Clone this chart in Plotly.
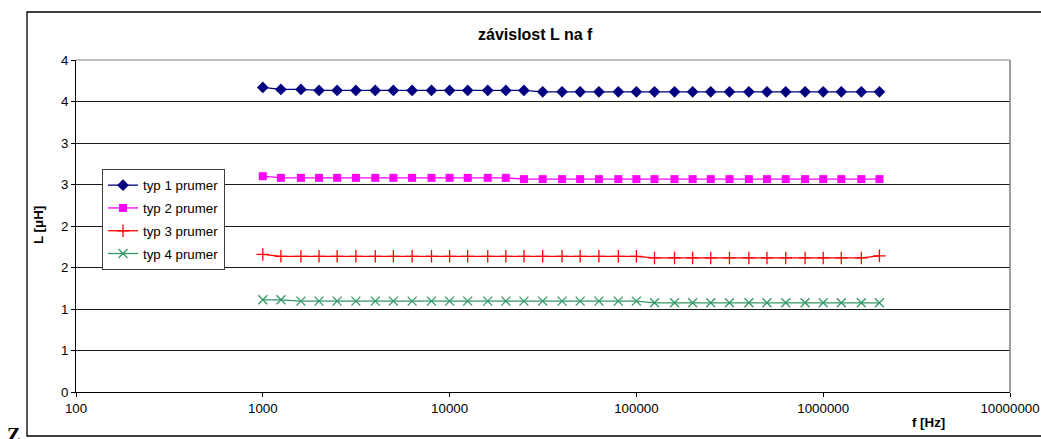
import plotly.graph_objects as go

# Frequencies [Hz]
freq = [1000, 1250, 1600, 2000, 2500, 3150, 4000, 5000, 6300, 8000,
        10000, 12500, 16000, 20000, 25000, 31500, 40000, 50000, 63000, 80000,
        100000, 125000, 160000, 200000, 250000, 315000, 400000, 500000, 630000, 800000,
        1000000, 1250000, 1600000, 2000000]

typ1 = [3.67, 3.645, 3.645, 3.633, 3.633, 3.633, 3.633, 3.633, 3.633, 3.633,
        3.633, 3.633, 3.633, 3.633, 3.633, 3.617, 3.617, 3.617, 3.617, 3.617,
        3.617, 3.617, 3.617, 3.617, 3.617, 3.617, 3.617, 3.617, 3.617, 3.617,
        3.617, 3.617, 3.617, 3.617]
typ2 = [2.60, 2.58, 2.58, 2.58, 2.58, 2.58, 2.58, 2.58, 2.58, 2.58,
        2.58, 2.58, 2.58, 2.58, 2.565, 2.565, 2.565, 2.565, 2.565, 2.565,
        2.565, 2.565, 2.565, 2.565, 2.565, 2.565, 2.565, 2.565, 2.565, 2.565,
        2.565, 2.565, 2.565, 2.565]
typ3 = [1.657, 1.635, 1.635, 1.635, 1.635, 1.635, 1.635, 1.635, 1.635, 1.635,
        1.635, 1.635, 1.635, 1.635, 1.635, 1.635, 1.635, 1.635, 1.635, 1.635,
        1.635, 1.615, 1.615, 1.615, 1.615, 1.615, 1.615, 1.615, 1.615, 1.615,
        1.615, 1.615, 1.615, 1.64]
typ4 = [1.111, 1.111, 1.095, 1.095, 1.095, 1.095, 1.095, 1.095, 1.095, 1.095,
        1.095, 1.095, 1.095, 1.095, 1.095, 1.095, 1.095, 1.095, 1.095, 1.095,
        1.095, 1.075, 1.075, 1.075, 1.075, 1.075, 1.075, 1.075, 1.075, 1.075,
        1.075, 1.075, 1.075, 1.075]

series_names = ["typ 1 prumer", "typ 2 prumer", "typ 3 prumer", "typ 4 prumer"]

y_tickvals = [0, 0.5, 1, 1.5, 2, 2.5, 3, 3.5, 4]
y_ticktext = ["0", "1", "1", "2", "2", "3", "3", "4", "4"]
x_tickvals = [100, 1000, 10000, 100000, 1000000, 10000000]
x_ticktext = ["100", "1000", "10000", "100000", "1000000", "10000000"]

FONT = "Liberation Sans, Arial, sans-serif"

styles = [
    dict(color="#000080", symbol="diamond", size=9, mline=0),
    dict(color="#FF00FF", symbol="square", size=8, mline=0),
    dict(color="#FF0000", symbol="cross-thin-open", size=9, mline=1.3),
    dict(color="#339966", symbol="x-thin-open", size=9, mline=1.3),
]

fig = go.Figure()
for name, vals, st in zip(series_names, [typ1, typ2, typ3, typ4], styles):
    fig.add_trace(go.Scatter(
        x=freq, y=vals, name=name, mode="lines+markers",
        line=dict(color=st["color"], width=1.3),
        marker=dict(symbol=st["symbol"], size=st["size"], color=st["color"],
                    line=dict(color=st["color"], width=st["mline"])),
        legendgroup=name,
    ))

L, R, T, B = 76, 1010, 60, 392
W, H = 1041, 439
pw, ph = R - L, B - T
def px(x): return (x - L) / pw
def py(y): return (B - y) / ph

fig.update_layout(
    template="none",
    width=W, height=H, autosize=False,
    margin=dict(l=L, r=W - R, t=T, b=H - B, pad=0, autoexpand=False),
    paper_bgcolor="white", plot_bgcolor="white",
    font=dict(family=FONT, size=13.3, color="black"),
    showlegend=True,
    legend=dict(
        x=px(102), y=py(169), xanchor="left", yanchor="top",
        bgcolor="white", bordercolor="#404040", borderwidth=1,
        font=dict(family=FONT, size=13.3, color="black"),
        tracegroupgap=2.5, itemwidth=30,
    ),
    xaxis=dict(
        type="log", range=[2, 7], tickvals=x_tickvals, ticktext=x_ticktext,
        showgrid=False, zeroline=False, automargin=False,
        showline=True, linecolor="black", linewidth=1,
        ticks="outside", ticklen=4, tickcolor="black",
        tickfont=dict(family=FONT, size=13.3, color="black"),
    ),
    yaxis=dict(
        range=[0, 4], tickvals=y_tickvals, ticktext=y_ticktext,
        showgrid=True, gridcolor="#1a1a1a", gridwidth=1, zeroline=False, automargin=False,
        showline=True, linecolor="black", linewidth=1,
        ticks="outside", ticklen=4, tickcolor="black",
        tickfont=dict(family=FONT, size=13.3, color="black"),
    ),
    shapes=[
        # outer chart border
        dict(type="rect", xref="paper", yref="paper",
             x0=px(27), x1=px(1050), y0=py(436), y1=py(12),
             line=dict(color="black", width=1.3), layer="below"),
        # plot area right & top borders
        dict(type="line", xref="paper", yref="paper", x0=1, x1=1, y0=0, y1=1,
             line=dict(color="#808080", width=1.5)),
        dict(type="line", xref="paper", yref="paper", x0=0, x1=1, y0=1, y1=1,
             line=dict(color="#808080", width=1)),
    ],
    annotations=[
        dict(text="<b>závislost L na f</b>", xref="paper", yref="paper",
             x=px(535), y=py(35), xanchor="center", yanchor="middle",
             showarrow=False, font=dict(family=FONT, size=16, color="black")),
        dict(text="<b>L [μH]</b>", xref="paper", yref="paper",
             x=px(38), y=py(225), xanchor="center", yanchor="middle", textangle=-90,
             showarrow=False, font=dict(family=FONT, size=13.3, color="black")),
        dict(text="<b>f [Hz]</b>", xref="paper", yref="paper",
             x=px(928), y=py(422), xanchor="center", yanchor="middle",
             showarrow=False, font=dict(family=FONT, size=13.3, color="black")),
        dict(text="<b>Z</b>", xref="paper", yref="paper",
             x=px(13), y=py(422), xanchor="center", yanchor="top",
             showarrow=False, font=dict(family="Liberation Serif, serif", size=20, color="black")),
    ],
)

fig.write_html(
    "out.html",
    config={"displayModeBar": False, "responsive": False},
    post_script="document.body.style.margin='0';document.body.style.overflow='hidden';",
)
